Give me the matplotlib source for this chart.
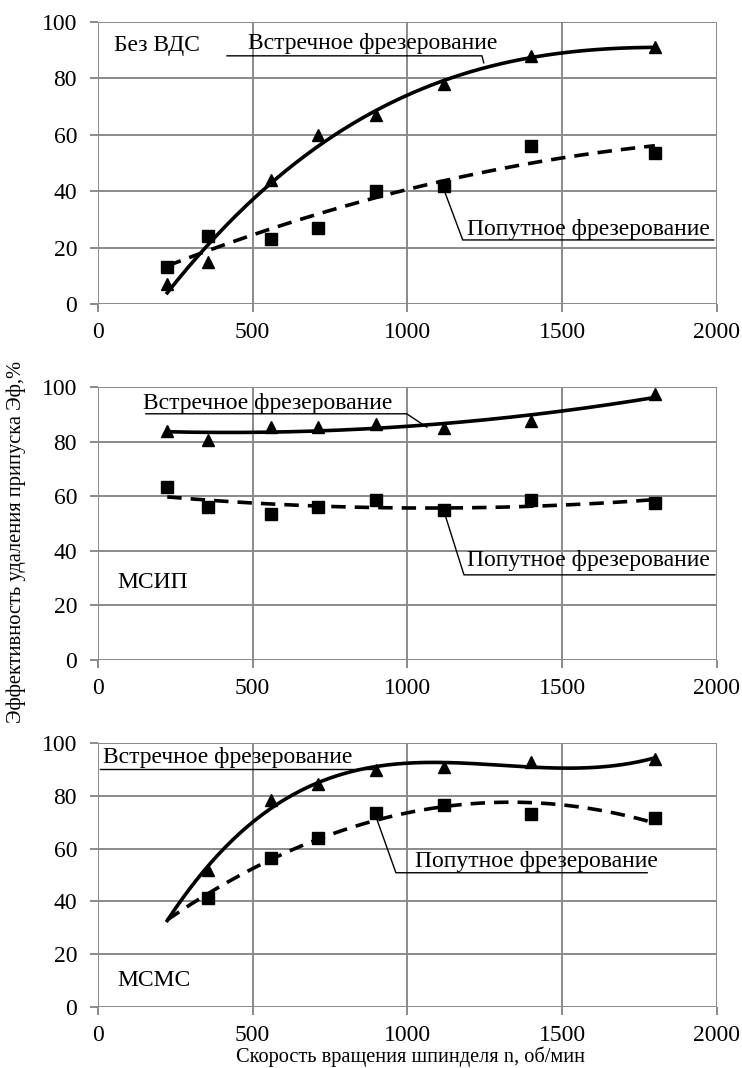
import numpy as np
import matplotlib
matplotlib.use('Agg')
from matplotlib import pyplot as plt

# ---------------------------------------------- #
# Data
# ---------------------------------------------- #
n_rpm = [224, 355, 560, 710, 900, 1120, 1400, 1800]

# Без ВДС
up1 = [7, 15, 44, 60, 67, 78, 88, 91]          # встречное (triangles)
down1 = [13, 24, 23, 27, 40, 42, 56, 53.5]     # попутное (squares)

# МСИП
up2 = [84, 80.5, 85.5, 85.5, 86.5, 85, 87.5, 97.5]
down2 = [63.5, 56, 53.5, 56, 58.5, 55, 58.5, 57.5]

# МСМС (no point at 224)
n_rpm3 = [355, 560, 710, 900, 1120, 1400, 1800]
up3 = [52, 78.5, 84.5, 90, 91, 93, 94]
down3 = [41.5, 56.5, 64, 73.5, 76.5, 73, 71.5]

panel_names = ['Без ВДС', 'МСИП', 'МСМС']
up_label = 'Встречное фрезерование'
down_label = 'Попутное фрезерование'

FONT = ['Liberation Serif', 'DejaVu Serif']
plt.rcParams['font.family'] = FONT
plt.rcParams['font.size'] = 17

fig = plt.figure(figsize=(7.42, 10.68), dpi=100)

# axes rectangles [left, bottom, width, height] in figure fractions
rects = [[0.132, 0.7154, 0.834, 0.264],
         [0.132, 0.382, 0.834, 0.2556],
         [0.132, 0.0571, 0.834, 0.247]]


def trend(x, y, deg, x0, x1):
    c = np.polyfit(x, y, deg)
    xs = np.linspace(x0, x1, 200)
    return xs, np.polyval(c, xs)


def setup(ax):
    ax.set_xlim(0, 2000)
    ax.set_ylim(0, 100)
    ax.set_xticks(range(0, 2001, 500))
    ax.set_yticks(range(0, 101, 20))
    ax.grid(True, color='#8a8a8a', linewidth=1.4)
    ax.set_axisbelow(True)
    for s in ax.spines.values():
        s.set_visible(False)
    ax.tick_params(length=6, width=1.4, color='#8a8a8a', labelsize=17)
    ax.tick_params(axis='y', pad=9)
    ax.tick_params(axis='x', pad=7)


series = [(n_rpm, up1, n_rpm, down1, 3, 2),
          (n_rpm, up2, n_rpm, down2, 2, 2),
          (n_rpm3, up3, n_rpm3, down3, 3, 2)]

axes = []
for i, (xu, yu, xd, yd, du, dd) in enumerate(series):
    ax = fig.add_axes(rects[i])
    setup(ax)
    xs, ys = trend(xu, yu, du, 224, 1800)
    ax.plot(xs, ys, color='black', linewidth=2.6, zorder=3)
    xs, ys = trend(xd, yd, dd, 224, 1800)
    ax.plot(xs, ys, color='black', linewidth=2.6, linestyle=(0, (4, 2.5)), zorder=3)
    ax.plot(xu, yu, '^', color='black', markersize=9, zorder=4, clip_on=False)
    ax.plot(xd, yd, 's', color='black', markersize=8, zorder=4, clip_on=False)
    axes.append(ax)

# ---------------------------------------------- #
# Labels with leader lines
# ---------------------------------------------- #
lw = 1.0
ax = axes[0]
ax.text(52, 91.5, panel_names[0], ha='left', va='center')
ax.text(887, 92.5, up_label, ha='center', va='center')
ax.plot([417, 1241, 1247], [88, 88, 85.5], color='black', linewidth=lw, zorder=5)
ax.text(1585, 26.5, down_label, ha='center', va='center')
ax.plot([1990, 1179, 1120], [22.7, 22.7, 40], color='black', linewidth=lw, zorder=5)

ax = axes[1]
ax.text(63, 28.5, panel_names[1], ha='left', va='center')
ax.text(549, 93.8, up_label, ha='center', va='center')
ax.plot([155, 998, 1063], [90.2, 90.2, 85.3], color='black', linewidth=lw, zorder=5)
ax.text(1585, 36.5, down_label, ha='center', va='center')
ax.plot([1994, 1183, 1121], [31.2, 31.2, 53.5], color='black', linewidth=lw, zorder=5)

ax = axes[2]
ax.text(63, 10, panel_names[2], ha='left', va='center')
ax.text(418, 94.5, up_label, ha='center', va='center')
ax.plot([8, 889], [90.2, 90.2], color='black', linewidth=lw, zorder=5)
ax.text(1417, 55, down_label, ha='center', va='center')
ax.plot([1775, 963, 902], [50.9, 50.9, 71], color='black', linewidth=lw, zorder=5)

fig.text(0.022, 0.4925, 'Эффективность удаления припуска Эф,%', rotation=90,
         ha='center', va='center', fontsize=14.8)
fig.text(0.553, 0.001, 'Скорость вращения шпинделя n, об/мин',
         ha='center', va='bottom', fontsize=14.7)

fig.savefig('out.png', dpi=100)
